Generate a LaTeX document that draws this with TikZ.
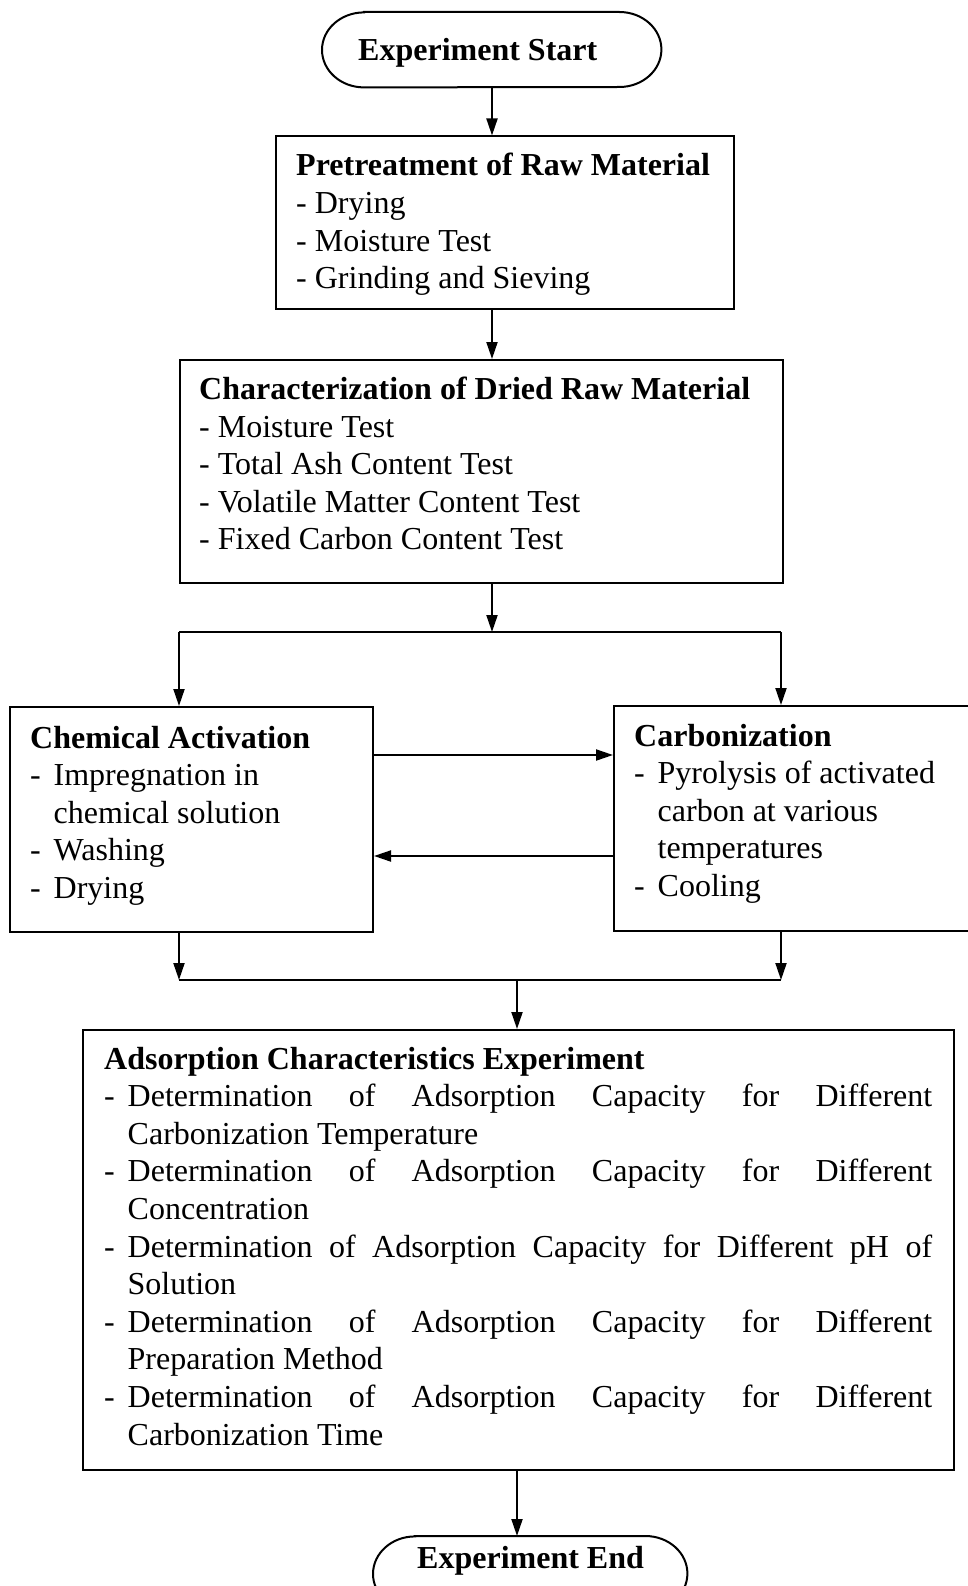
\documentclass[tikz,border=0pt]{standalone}
\usepackage{fontspec}
\setmainfont{Liberation Serif}
\usetikzlibrary{arrows.meta}
\newcommand{\fs}{\fontsize{32}{37.6}\selectfont}
\newcommand{\dsh}{\makebox[23.5pt][l]{-}}
\begin{document}
\begin{tikzpicture}[x=1pt,y=-1pt,
  box/.style={draw,line width=2pt,inner sep=0pt,anchor=north west},
  term/.style={inner sep=0pt,anchor=north west},
  txt/.style={anchor=base west,inner sep=0pt,font=\fs},
  conn/.style={line width=2pt},
  arr/.style={line width=2pt,-{Triangle[length=17pt,width=11pt]}}
]
\path[use as bounding box] (0,0) rectangle (968,1586);
\clip (0,0) rectangle (968,1586);
% shapes
\node[term,minimum width=339pt,minimum height=75pt] (tstart) at (322,12) {};
\node[box,minimum width=458pt,minimum height=173pt] (pre) at (275,135.5) {};
\node[box,minimum width=603pt,minimum height=223pt] (char) at (179,359) {};
\node[box,minimum width=363pt,minimum height=225pt] (chem) at (9,706) {};
\node[box,minimum width=380pt,minimum height=225pt] (carb) at (613,705) {};
\node[box,minimum width=871pt,minimum height=440pt] (ads) at (82,1029) {};
\node[term,minimum width=314pt,minimum height=75pt] (tend) at (373,1536) {};
% terminal outlines (elliptic ends)
\draw[conn] ([xshift=42pt]tstart.north west) -- ([xshift=-42pt]tstart.north east)
  arc[start angle=90,end angle=-90,x radius=42pt,y radius=37.5pt]
  -- ([xshift=42pt]tstart.south west)
  arc[start angle=270,end angle=90,x radius=42pt,y radius=37.5pt] -- cycle;
\draw[conn] ([xshift=42pt]tend.north west) -- ([xshift=-42pt]tend.north east)
  arc[start angle=90,end angle=-90,x radius=42pt,y radius=37.5pt]
  -- ([xshift=42pt]tend.south west)
  arc[start angle=270,end angle=90,x radius=42pt,y radius=37.5pt] -- cycle;
% texts
\node[txt] (tstartT) at (358,61) {\textbf{Experiment Start}};
\node[txt] (preT) at (296,176) {\parbox[t]{430pt}{\fs
\textbf{Pretreatment of Raw Material}\\
- Drying\\
- Moisture Test\\
- Grinding and Sieving}};
\node[txt] (charT) at (199,399.5) {\parbox[t]{580pt}{\fs
\textbf{Characterization of Dried Raw Material}\\
- Moisture Test\\
- Total Ash Content Test\\
- Volatile Matter Content Test\\
- Fixed Carbon Content Test}};
\node[txt] (chemT) at (30,748) {\parbox[t]{330pt}{\fs
\textbf{Chemical Activation}\\
\dsh Impregnation in\\
\hspace*{23.5pt}chemical solution\\
\dsh Washing\\
\dsh Drying}};
\node[txt] (carbT) at (634,746) {\parbox[t]{330pt}{\fs
\textbf{Carbonization}\\
\dsh Pyrolysis of activated\\
\hspace*{23.5pt}carbon at various\\
\hspace*{23.5pt}temperatures\\
\dsh Cooling}};
\node[txt] (adsT) at (104,1069) {\parbox[t]{828pt}{\fs\setlength{\parindent}{0pt}\tolerance=10000
\textbf{Adsorption Characteristics Experiment}\par
\hangindent=23.5pt\hangafter=1 \dsh Determination of Adsorption Capacity for Different\linebreak Carbonization Temperature\par
\hangindent=23.5pt\hangafter=1 \dsh Determination of Adsorption Capacity for Different\linebreak Concentration\par
\hangindent=23.5pt\hangafter=1 \dsh Determination of Adsorption Capacity for Different pH of\linebreak Solution\par
\hangindent=23.5pt\hangafter=1 \dsh Determination of Adsorption Capacity for Different\linebreak Preparation Method\par
\hangindent=23.5pt\hangafter=1 \dsh Determination of Adsorption Capacity for Different\linebreak Carbonization Time\par}};
\node[txt] (tendT) at (417,1568) {\textbf{Experiment End}};
% helper coordinates
\coordinate (split) at (492,632);
\coordinate (sl) at (179,632);
\coordinate (sr) at (781,632);
\coordinate (ya) at (0,755);
\coordinate (yb) at (0,856);
\coordinate (jl) at (179,980);
\coordinate (jr) at (781,980);
\coordinate (join) at (517,980);
% connectors
\draw[arr] (tstart.south -| split) -- (pre.north -| split);
\draw[arr] (pre.south -| split) -- (char.north -| split);
\draw[arr] (char.south -| split) -- (split);
\draw[conn] (sl) -- (sr);
\draw[arr] (sl) -- (sl |- chem.north);
\draw[arr] (sr) -- (sr |- carb.north);
\draw[arr] (chem.east |- ya) -- (carb.west |- ya);
\draw[arr] (carb.west |- yb) -- (chem.east |- yb);
\draw[arr] (jl |- chem.south) -- (jl);
\draw[arr] (jr |- carb.south) -- (jr);
\draw[conn] (jl) -- (jr);
\draw[arr] (join) -- (join |- ads.north);
\draw[arr] (join |- ads.south) -- (join |- tend.north);
\end{tikzpicture}
\end{document}
